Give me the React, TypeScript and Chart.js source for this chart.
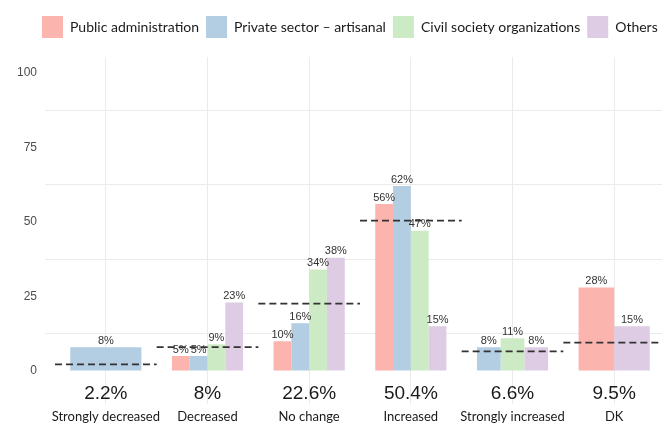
import React, { useEffect, useRef } from "react";
import { Chart, registerables } from "chart.js";

Chart.register(...registerables);

const categories = ["Strongly decreased", "Decreased", "No change", "Increased", "Strongly increased", "DK"];
const overallValues = [2.2, 8, 22.6, 50.4, 6.6, 9.5];
const overallLabels = ["2.2%", "8%", "22.6%", "50.4%", "6.6%", "9.5%"];
const publicAdministration = [null, 5, 10, 56, null, 28];
const privateSector = [8, 5, 16, 62, 8, null];
const civilSociety = [null, 9, 34, 47, 11, null];
const others = [null, 23, 38, 15, 8, 15];
const seriesNames = ["Public administration", "Private sector \u2013 artisanal", "Civil society organizations", "Others"];
const yTickValues = [0, 12.5, 25, 37.5, 50, 62.5, 75, 87.5, 100];

const COLORS = ["#FBB4AE", "#B3CDE3", "#CCEBC5", "#DECBE4"];
const OVERALL_LABEL_Y = -7.7;
const LEGEND_SHIFT = 25;

export default function App() {
  const ref = useRef<HTMLCanvasElement>(null);

  useEffect(() => {
    const canvas = ref.current!;

    const legendTweak = {
      id: "legendTweak",
      beforeInit(chart: any) {
        const legend = chart.legend;
        if (!legend) return;
        const orig = legend.fit;
        legend.fit = function () {
          orig.call(this);
          this.height += 9;
        };
      },
      afterLayout(chart: any) {
        const legend = chart.legend;
        if (!legend) return;
        legend.left += LEGEND_SHIFT;
        legend.right += LEGEND_SHIFT;
      },
    };

    const overlay = {
      id: "overlay",
      afterDatasetsDraw(chart: any) {
        const ctx = chart.ctx;
        const xs = chart.scales.x;
        const ys = chart.scales.y;
        ctx.save();
        // value labels
        ctx.font = "11px 'Liberation Sans', Arial, sans-serif";
        ctx.fillStyle = "#333333";
        ctx.textAlign = "center";
        ctx.textBaseline = "bottom";
        chart.data.datasets.forEach((ds: any, di: number) => {
          const meta = chart.getDatasetMeta(di);
          meta.data.forEach((el: any, i: number) => {
            const v = ds.data[i];
            if (v === null || v === undefined) return;
            ctx.fillText(v + "%", el.x, el.y - 1);
          });
        });
        // dashed overall lines
        const half = (xs.getPixelForValue(1) - xs.getPixelForValue(0)) / 2;
        ctx.strokeStyle = "#333333";
        ctx.lineWidth = 1.8;
        ctx.setLineDash([7, 4]);
        overallValues.forEach((v, i) => {
          const cx = xs.getPixelForValue(i);
          const y = ys.getPixelForValue(v);
          ctx.beginPath();
          ctx.moveTo(cx - half, y);
          ctx.lineTo(cx + half, y);
          ctx.stroke();
        });
        ctx.setLineDash([]);
        // overall labels
        ctx.font = "19px 'Liberation Sans', Arial, sans-serif";
        ctx.fillStyle = "#1a1a1a";
        ctx.textBaseline = "middle";
        overallLabels.forEach((t, i) => {
          ctx.fillText(t, xs.getPixelForValue(i), ys.getPixelForValue(OVERALL_LABEL_Y));
        });
        ctx.restore();
      },
    };

    const seriesData = [publicAdministration, privateSector, civilSociety, others];

    const chart = new Chart(canvas, {
      type: "bar",
      data: {
        labels: categories,
        datasets: seriesData.map((d, i) => ({
          label: seriesNames[i],
          data: d as any,
          backgroundColor: COLORS[i],
          borderWidth: 0,
          categoryPercentage: 0.7,
          barPercentage: 1.0,
        })),
      },
      options: {
        animation: false,
        responsive: false,
        devicePixelRatio: 1,
        skipNull: true,
        layout: { padding: { left: 10, right: 15, top: 9, bottom: 0 } },
        plugins: {
          legend: {
            position: "top",
            align: "start",
            labels: {
              boxWidth: 21,
              boxHeight: 22,
              padding: 7,
              color: "#1a1a1a",
              font: { family: "Lato, 'Open Sans', sans-serif", size: 14 },
            },
          },
          tooltip: { enabled: false },
        },
        scales: {
          x: {
            type: "category",
            offset: true,
            grid: { offset: false, color: "#EBEBEB", lineWidth: 1, drawTicks: false },
            border: { display: false },
            ticks: {
              padding: 5,
              color: "#1a1a1a",
              font: { family: "Lato, 'Open Sans', sans-serif", size: 13 },
              maxRotation: 0,
              autoSkip: false,
            },
          },
          y: {
            type: "linear",
            min: -11.2,
            max: 105.3,
            afterBuildTicks: (scale: any) => {
              scale.ticks = yTickValues.map((v) => ({ value: v }));
            },
            afterFit: (scale: any) => {
              scale.width = 45;
            },
            grid: {
              color: (c: any) => (c.tick && c.tick.value % 25 === 0 ? "rgba(0,0,0,0)" : "#EBEBEB"),
              lineWidth: 1,
              drawTicks: true,
              tickLength: 10,
            },
            border: { display: false },
            ticks: {
              padding: 8,
              color: "#4D4D4D",
              font: { family: "'Liberation Sans', Arial, sans-serif", size: 12 },
              callback: (v: any) => (Number(v) % 25 === 0 ? String(v) : ""),
            },
          },
        },
      } as any,
      plugins: [legendTweak, overlay],
    });

    return () => chart.destroy();
  }, []);

  return (
    <div
      style={{
        position: "absolute",
        left: 0,
        top: 0,
        width: 662,
        height: 430,
        overflow: "hidden",
        background: "#ffffff",
      }}
    >
      <canvas ref={ref} width={680} height={430} style={{ display: "block", width: 680, height: 430 }} />
    </div>
  );
}
